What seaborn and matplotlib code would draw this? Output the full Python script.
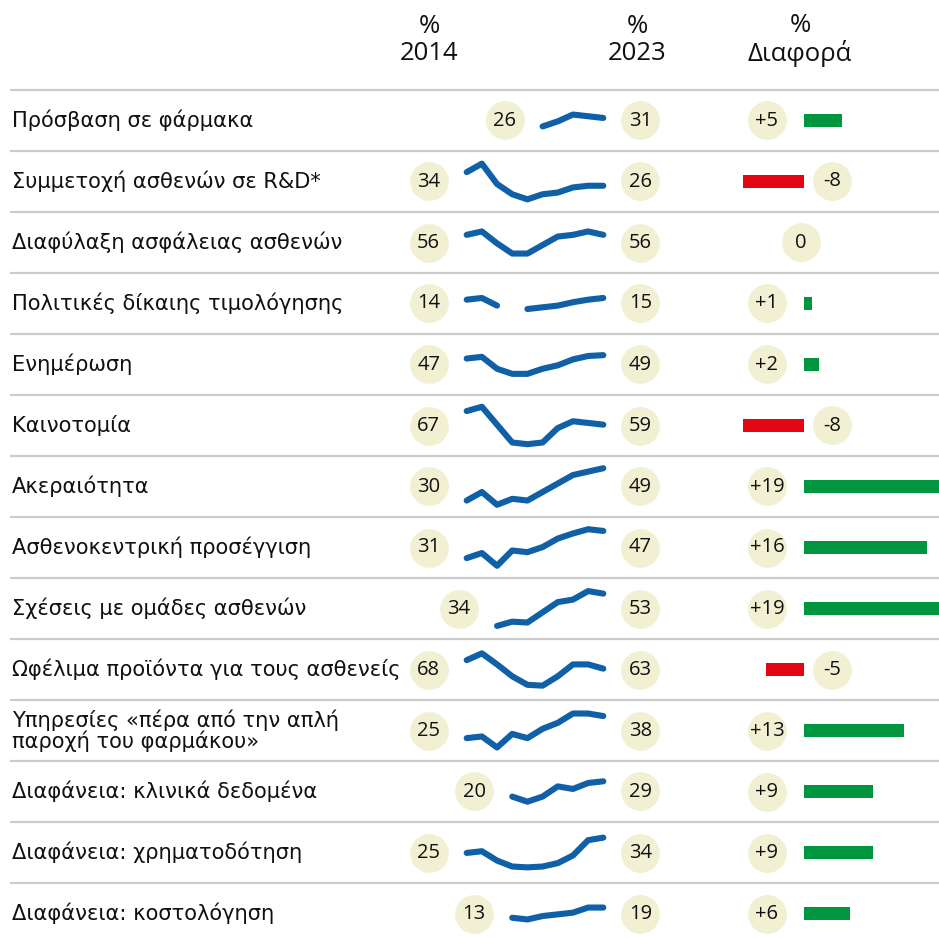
import numpy as np
import pandas as pd
import matplotlib
matplotlib.use("Agg")
import matplotlib.pyplot as plt
import seaborn as sns

nan = np.nan

# ---------------- data ----------------
categories = [
    "Πρόσβαση σε φάρμακα",
    "Συμμετοχή ασθενών σε R&D*",
    "Διαφύλαξη ασφάλειας ασθενών",
    "Πολιτικές δίκαιης τιμολόγησης",
    "Ενημέρωση",
    "Καινοτομία",
    "Ακεραιότητα",
    "Ασθενοκεντρική προσέγγιση",
    "Σχέσεις με ομάδες ασθενών",
    "Ωφέλιμα προϊόντα για τους ασθενείς",
    "Υπηρεσίες «πέρα από την απλή\nπαροχή του φαρμάκου»",
    "Διαφάνεια: κλινικά δεδομένα",
    "Διαφάνεια: χρηματοδότηση",
    "Διαφάνεια: κοστολόγηση",
]
years = list(range(2014, 2024))
pct_2014 = [26, 34, 56, 14, 47, 67, 30, 31, 34, 68, 25, 20, 25, 13]
pct_2023 = [31, 26, 56, 15, 49, 59, 49, 47, 53, 63, 38, 29, 34, 19]
difference = [5, -8, 0, 1, 2, -8, 19, 16, 19, -5, 13, 9, 9, 6]

trend_access = [nan, nan, nan, nan, nan, 26, 29, 33, 32, 31]
trend_rnd = [34, 39, 27, 21, 18, 21, 22, 25, 26, 26]
trend_safety = [56, 58, 51, 45, 45, 50, 55, 56, 58, 56]
trend_pricing = [14, 15, 10.5, nan, 8.5, 9.5, 10.5, 12.5, 14, 15]
trend_info = [47, 48, 41, 38, 38, 41, 43, 46.5, 48.5, 49]
trend_innovation = [67, 69.5, 59, 48.5, 47.5, 48.5, 57, 61, 60, 59]
trend_integrity = [30, 35, 27.5, 31, 30, 35, 40, 45, 47, 49]
trend_patient_centric = [31, 34, 26.5, 35.5, 34.5, 37.5, 42.5, 45.5, 48, 47]
trend_groups = [nan, nan, 34, 36.5, 36, 42, 48, 49.5, 54.5, 53]
trend_products = [68, 72, 65.5, 58.5, 53.5, 53, 58.5, 65.5, 65.5, 63]
trend_services = [25, 26, 19.5, 27.5, 25, 30.5, 34, 39.5, 39.5, 38]
trend_clinical = [nan, nan, nan, 20, 17, 20, 26, 24.5, 28, 29]
trend_funding = [25, 26, 20.5, 17, 16.5, 17, 19, 23.5, 32.5, 34]
trend_costing = [nan, nan, nan, 13, 12, 14, 15, 16, 19, 19]

trends = [trend_access, trend_rnd, trend_safety, trend_pricing, trend_info,
          trend_innovation, trend_integrity, trend_patient_centric, trend_groups,
          trend_products, trend_services, trend_clinical, trend_funding, trend_costing]

# ---------------- style ----------------
BLUE = "#0f60a6"
CIRCLE = "#f2f0d2"
GREEN = "#00963f"
RED = "#e30613"
SEP = "#cccccc"
NUM_FONT = ["Open Sans", "DejaVu Sans"]

sns.set_theme(style="white")
plt.rcParams["font.family"] = ["DejaVu Sans"]

W, H = 939, 938
fig = plt.figure(figsize=(W / 100, H / 100), dpi=100)
fig.patch.set_facecolor("white")

ROW_TOP0 = 90
ROW_H = 61
PX_YEAR = 15.18
PX_PCT = 1.7
PX_DIFF = 7.67
n = len(categories)


def px_axes(x0, top, w, h):
    ax = fig.add_axes([x0 / W, 1 - (top + h) / H, w / W, h / H])
    ax.set_axis_off()
    ax.patch.set_visible(False)
    return ax


# background table axes: x in pixels, y in row units
bg = px_axes(0, 0, W, H)
bg.set_xlim(0, W)
bg.set_ylim(-0.5 + (H - ROW_TOP0) / ROW_H, -0.5 - ROW_TOP0 / ROW_H)
bg.hlines(np.arange(n) - 0.5, 10, W, color=SEP, lw=1.6)
for i, lab in enumerate(categories):
    bg.text(12, i, lab, ha="left", va="center", fontsize=15.1, color="#111111",
            linespacing=1.0)
head_y = -0.5 - (ROW_TOP0 - 40) / ROW_H
for xc, t in [(429, "%\n2014"), (637, "%\n2023"), (800, "%\nΔιαφορά")]:
    bg.text(xc, head_y, t, ha="center", va="center", fontsize=18.5,
            family=NUM_FONT, color="#111111", linespacing=1.1)

# sparklines
for i, series in enumerate(trends):
    ax = px_axes(400, ROW_TOP0 + ROW_H * i, 280, ROW_H)
    ax.set_xlim(2014 - 66.7 / PX_YEAR, 2023 + 76.7 / PX_YEAR)
    vals = pd.Series(series, dtype=float)
    mid = (vals.min() + vals.max()) / 2
    half = ROW_H / 2 / PX_PCT
    df = pd.DataFrame({"year": years, "value": vals})
    df["seg"] = df["value"].isna().cumsum()
    df = df.dropna()
    sns.lineplot(data=df, x="year", y="value", units="seg", estimator=None,
                 color=BLUE, lw=4.4, solid_capstyle="round",
                 solid_joinstyle="round", ax=ax, legend=False)
    ax.set_axis_off()
    ax.set_ylim(mid - half, mid + half)
    first_year = df["year"].iloc[0]
    xs = [first_year - 38 / PX_YEAR, 2023 + 37 / PX_YEAR]
    ax.scatter(xs, [mid, mid], s=780, color=CIRCLE, linewidths=0,
               clip_on=False, zorder=3)
    for x, v in zip(xs, [pct_2014[i], pct_2023[i]]):
        ax.text(x, mid, f"{v}", ha="center", va="center", fontsize=14.5,
                family=NUM_FONT, color="#111111", zorder=4)

# difference bars
dax = px_axes(700, ROW_TOP0, W - 700, H - ROW_TOP0)
ddf = pd.DataFrame({"cat": categories, "diff": difference})
ddf["sign"] = np.where(ddf["diff"] < 0, "neg", "pos")
sns.barplot(data=ddf, x="diff", y="cat", hue="sign", order=categories,
            palette={"pos": GREEN, "neg": RED}, orient="h", dodge=False,
            saturation=1, width=13 / ROW_H, legend=False, linewidth=0, ax=dax)
dax.set_axis_off()
dax.set_xlim(-104 / PX_DIFF, (W - 804) / PX_DIFF)
dax.set_ylim(-0.5 + (H - ROW_TOP0) / ROW_H, -0.5)
cx = [(-37 / PX_DIFF) if d > 0 else (28 / PX_DIFF if d < 0 else -3 / PX_DIFF)
      for d in difference]
dax.scatter(cx, np.arange(n), s=780, color=CIRCLE, linewidths=0,
            clip_on=False, zorder=3)
for i, (x, d) in enumerate(zip(cx, difference)):
    lab = f"+{d}" if d > 0 else f"{d}"
    dax.text(x, i, lab, ha="center", va="center", fontsize=14.5,
             family=NUM_FONT, color="#111111", zorder=4)

fig.savefig("out.png", dpi=100)
